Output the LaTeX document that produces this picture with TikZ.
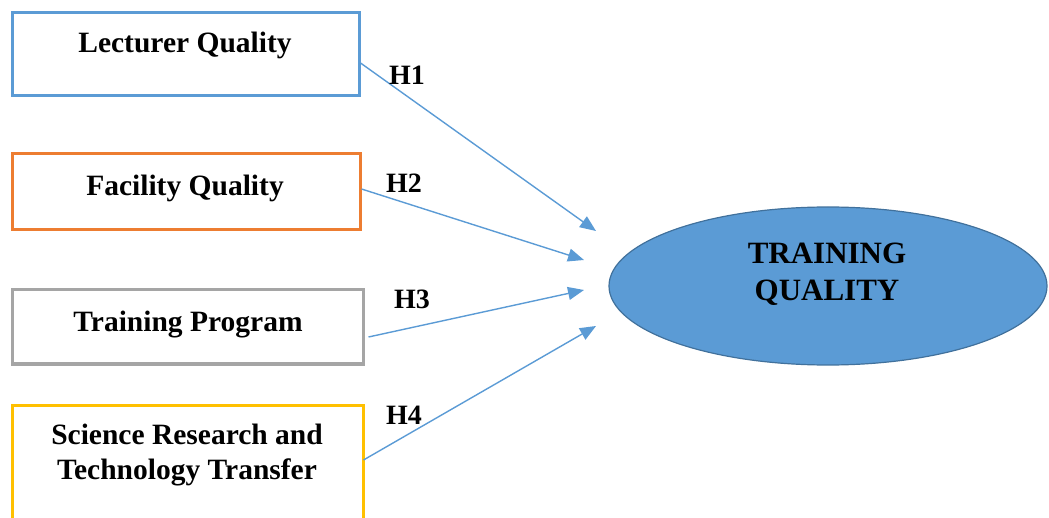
\documentclass[tikz,border=0pt]{standalone}
\usepackage{fontspec}
\setmainfont{Liberation Serif}
\usetikzlibrary{arrows.meta,shapes.geometric}
\definecolor{lqblue}{HTML}{5B9BD5}
\definecolor{fqorange}{HTML}{ED7D31}
\definecolor{tpgray}{HTML}{A5A5A5}
\definecolor{srgold}{HTML}{FFC000}
\definecolor{tqedge}{HTML}{41719C}
\tikzset{
  factorbox/.style={draw, line width=3pt, fill=white, rectangle, inner sep=0pt},
  boxtext/.style={font=\bfseries\fontsize{29.5}{35}\selectfont, align=center, inner sep=0pt},
  hyp/.style={font=\bfseries\fontsize{28}{32}\selectfont, inner sep=0pt},
  path/.style={draw=lqblue, line width=1.4pt, -{Triangle[length=16pt, width=13pt]}},
}
\begin{document}
\begin{tikzpicture}[x=1pt, y=-1pt]
  \clip (0,0) rectangle (1049,518);
  \useasboundingbox (0,0) rectangle (1049,518);

  % independent variables
  \node[factorbox, draw=lqblue, minimum width=347pt, minimum height=83pt] (lq) at (185.5,54.5) {};
  \node[factorbox, draw=fqorange, minimum width=348pt, minimum height=76pt] (fq) at (186,192) {};
  \node[factorbox, draw=tpgray, minimum width=351pt, minimum height=74pt] (tp) at (187.5,327) {};
  \node[factorbox, draw=srgold, minimum width=351pt, minimum height=135pt] (sr) at (187.5,472.5) {};

  \node[boxtext] (lqt) at (185,45) {Lecturer Quality};
  \node[boxtext] (fqt) at (185,188) {Facility Quality};
  \node[boxtext] (tpt) at (188,325) {Training Program};
  \node[boxtext] (srt) at (187,455) {Science Research and\\Technology Transfer};

  % dependent variable
  \node[ellipse, draw=tqedge, line width=1.2pt, fill=lqblue, minimum width=438pt, minimum height=158pt, inner sep=0pt] (tq) at (828,286) {};
  \node[font=\bfseries\fontsize{31}{37}\selectfont, align=center, inner sep=0pt] (tqt) at (827,274) {TRAINING\\QUALITY};

  % arrow end points in front of the ellipse
  \coordinate (e1) at (596,231);
  \coordinate (e2) at (584,260);
  \coordinate (e3) at (584,290);
  \coordinate (e4) at (596,326);

  \draw[path] ([yshift=-8.5pt]lq.east) -- (e1);
  \draw[path] ([yshift=3pt]fq.east) -- (e2);
  \draw[path] ([xshift=4pt,yshift=-10pt]tp.east) -- (e3);
  \draw[path] ([xshift=-1pt,yshift=12.5pt]sr.west -| sr.east) -- (e4);

  % hypothesis labels
  \node[hyp] (h1) at (407,75) {H1};
  \node[hyp] (h2) at (404,183) {H2};
  \node[hyp] (h3) at (412,299) {H3};
  \node[hyp] (h4) at (404,415) {H4};
\end{tikzpicture}
\end{document}
